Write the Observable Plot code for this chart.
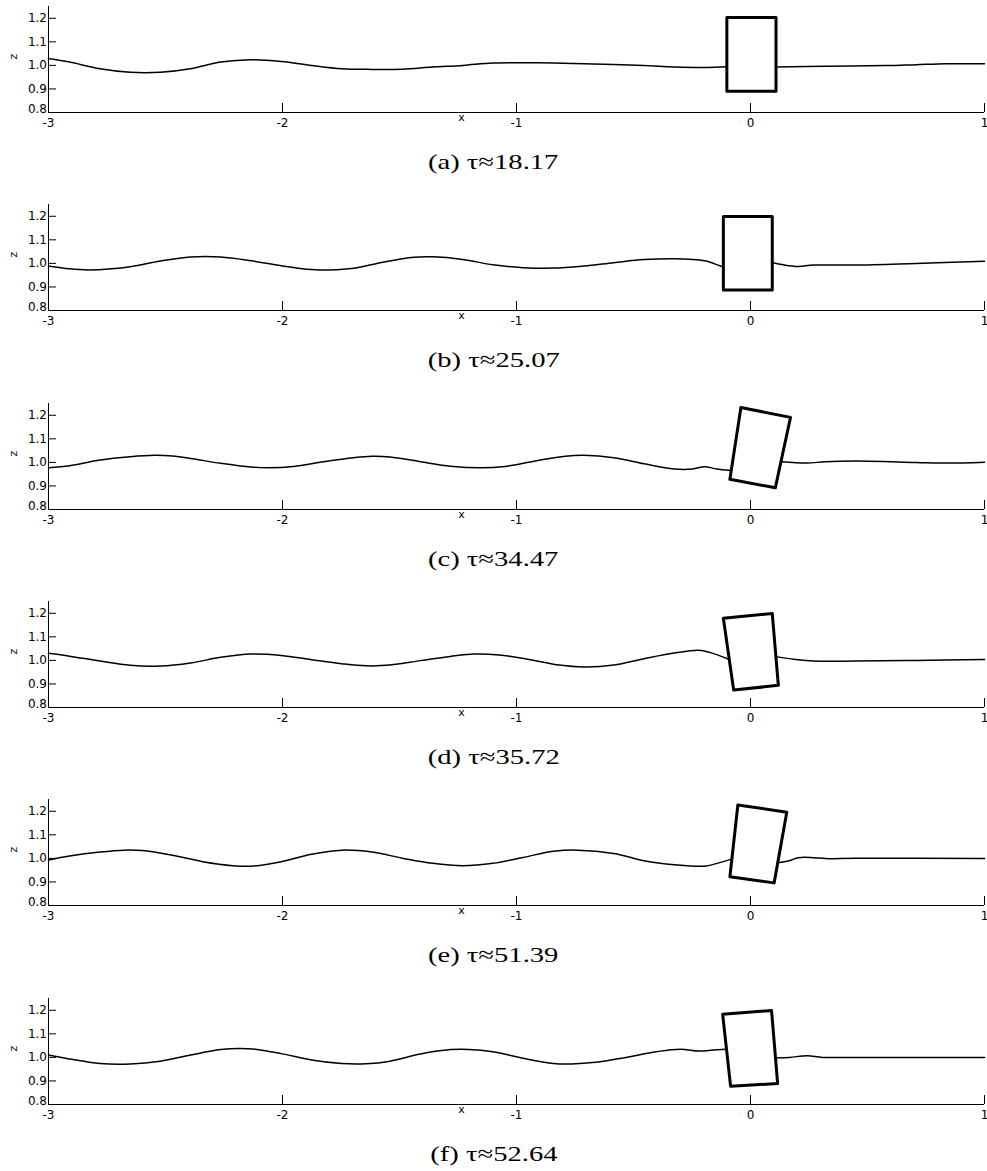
<!DOCTYPE html>
<html>
<head>
<meta charset="utf-8">
<script src="https://cdn.jsdelivr.net/npm/d3@7"></script>
<script src="https://cdn.jsdelivr.net/npm/@observablehq/plot@0.6"></script>
<style>
  html, body { margin: 0; padding: 0; background: #fff; }
  #root { position: relative; width: 987px; height: 1171px; overflow: hidden; }
  .block { position: absolute; left: 0; width: 987px; height: 198px; }
  .block svg { position: absolute; left: 0; top: 0; }
  .cap { position: absolute; left: 0; width: 987px; top: 151px; text-align: center;
         font-family: "Liberation Serif", "Times New Roman", serif; font-size: 22px; line-height: 22px; color: #000; }
  .cap span { display: inline-block; transform: scaleX(1.3); transform-origin: center; }
</style>
</head>
<body>
<div id="root"></div>
<script>
// ---- axis ticks ----
const xTicks = [-3, -2, -1, 0, 1];
const zTicks = [0.8, 0.9, 1.0, 1.1, 1.2];
const captions = ["(a) τ≈18.17", "(b) τ≈25.07", "(c) τ≈34.47", "(d) τ≈35.72", "(e) τ≈51.39", "(f) τ≈52.64"];

// ---- (a) ----
const aLeftX = [-3, -2.91, -2.78, -2.651, -2.522, -2.393, -2.264, -2.134, -2.005, -1.876, -1.747, -1.618, -1.488, -1.359, -1.23, -1.101, -0.972, -0.842, -0.713, -0.455, -0.326, -0.196, -0.101];
const aLeftZ = [1.029, 1.014, 0.986, 0.971, 0.971, 0.986, 1.014, 1.024, 1.017, 1.0, 0.986, 0.983, 0.984, 0.993, 1.0, 1.01, 1.011, 1.01, 1.007, 0.999, 0.993, 0.991, 0.994];
const aRightX = [0.109, 0.32, 0.579, 0.708, 0.837, 1.0];
const aRightZ = [0.993, 0.996, 0.999, 1.003, 1.007, 1.007];
const aBoxX = [-0.101, 0.109, 0.109, -0.101];
const aBoxZ = [1.203, 1.203, 0.89, 0.89];

// ---- (b) ----
const bLeftX = [-3, -2.91, -2.832, -2.729, -2.651, -2.522, -2.393, -2.264, -2.134, -2.005, -1.876, -1.798, -1.695, -1.566, -1.437, -1.359, -1.23, -1.101, -0.972, -0.842, -0.713, -0.584, -0.455, -0.326, -0.196, -0.132, -0.116];
const bLeftZ = [0.989, 0.977, 0.972, 0.977, 0.986, 1.01, 1.027, 1.027, 1.011, 0.99, 0.974, 0.972, 0.979, 1.006, 1.026, 1.028, 1.017, 0.994, 0.982, 0.98, 0.989, 1.003, 1.016, 1.02, 1.011, 0.99, 0.985];
const bRightX = [0.095, 0.14, 0.204, 0.269, 0.45, 0.708, 1.0];
const bRightZ = [1.003, 0.994, 0.987, 0.993, 0.993, 1.0, 1.009];
const bBoxX = [-0.116, 0.093, 0.093, -0.116];
const bBoxZ = [1.199, 1.199, 0.887, 0.887];

// ---- (c) ----
const cLeftX = [-3, -2.91, -2.78, -2.651, -2.548, -2.47, -2.393, -2.264, -2.134, -2.057, -1.953, -1.824, -1.695, -1.618, -1.54, -1.411, -1.282, -1.152, -1.049, -0.92, -0.791, -0.713, -0.584, -0.455, -0.326, -0.248, -0.196, -0.145, -0.086];
const cLeftZ = [0.977, 0.986, 1.01, 1.024, 1.03, 1.027, 1.017, 0.996, 0.98, 0.977, 0.983, 1.003, 1.02, 1.026, 1.023, 1.003, 0.984, 0.977, 0.983, 1.006, 1.026, 1.03, 1.02, 0.994, 0.972, 0.972, 0.982, 0.972, 0.966];
const cRightX = [0.13, 0.243, 0.32, 0.45, 0.708, 0.837, 1.0];
const cRightZ = [1.003, 0.997, 1.003, 1.006, 1.0, 0.997, 1.001];
const cBoxX = [-0.041, 0.171, 0.106, -0.088];
const cBoxZ = [1.233, 1.191, 0.892, 0.928];

// ---- (d) ----
const dLeftX = [-3, -2.91, -2.78, -2.651, -2.522, -2.393, -2.264, -2.134, -2.005, -1.876, -1.747, -1.643, -1.54, -1.411, -1.282, -1.178, -1.075, -0.946, -0.817, -0.713, -0.584, -0.455, -0.326, -0.222, -0.171, -0.09];
const dLeftZ = [1.03, 1.018, 0.997, 0.979, 0.976, 0.989, 1.013, 1.027, 1.021, 1.003, 0.986, 0.977, 0.98, 0.999, 1.017, 1.027, 1.023, 1.004, 0.98, 0.972, 0.98, 1.007, 1.031, 1.043, 1.033, 1.004];
const dRightX = [0.109, 0.191, 0.269, 0.45, 0.708, 1.0];
const dRightZ = [1.016, 1.004, 0.997, 0.997, 1.0, 1.004];
const dBoxX = [-0.116, 0.093, 0.119, -0.072];
const dBoxZ = [1.179, 1.199, 0.894, 0.874];

// ---- (e) ----
const eLeftX = [-3, -2.91, -2.78, -2.677, -2.599, -2.47, -2.341, -2.212, -2.134, -2.005, -1.876, -1.747, -1.618, -1.488, -1.359, -1.23, -1.101, -0.972, -0.842, -0.739, -0.584, -0.455, -0.326, -0.196, -0.132, -0.082];
const eLeftZ = [0.993, 1.01, 1.027, 1.035, 1.033, 1.013, 0.986, 0.969, 0.967, 0.986, 1.018, 1.035, 1.027, 1.001, 0.979, 0.969, 0.979, 1.004, 1.03, 1.035, 1.021, 0.99, 0.973, 0.967, 0.982, 0.997];
const eRightX = [0.116, 0.165, 0.204, 0.269, 0.32, 0.45, 1.0];
const eRightZ = [0.982, 0.99, 1.003, 1.003, 0.999, 1.001, 0.999];
const eBoxX = [-0.054, 0.155, 0.101, -0.088];
const eBoxZ = [1.227, 1.196, 0.896, 0.922];

// ---- (f) ----
const fLeftX = [-3, -2.91, -2.78, -2.651, -2.522, -2.393, -2.264, -2.186, -2.109, -2.005, -1.876, -1.747, -1.643, -1.54, -1.411, -1.282, -1.204, -1.101, -0.972, -0.842, -0.765, -0.662, -0.532, -0.403, -0.3, -0.222, -0.171, -0.103];
const fLeftZ = [1.01, 0.993, 0.974, 0.972, 0.984, 1.01, 1.033, 1.038, 1.034, 1.016, 0.989, 0.974, 0.973, 0.984, 1.014, 1.033, 1.034, 1.024, 0.996, 0.974, 0.972, 0.979, 1.0, 1.024, 1.035, 1.027, 1.03, 1.035];
const fRightX = [0.107, 0.165, 0.243, 0.307, 0.45, 1.0];
const fRightZ = [0.999, 1.0, 1.007, 1.0, 1.0, 1.0];
const fBoxX = [-0.119, 0.090, 0.116, -0.085];
const fBoxZ = [1.183, 1.199, 0.889, 0.877];

const panels = [
  [aLeftX, aLeftZ, aRightX, aRightZ, aBoxX, aBoxZ],
  [bLeftX, bLeftZ, bRightX, bRightZ, bBoxX, bBoxZ],
  [cLeftX, cLeftZ, cRightX, cRightZ, cBoxX, cBoxZ],
  [dLeftX, dLeftZ, dRightX, dRightZ, dBoxX, dBoxZ],
  [eLeftX, eLeftZ, eRightX, eRightZ, eBoxX, eBoxZ],
  [fLeftX, fLeftZ, fRightX, fRightZ, fBoxX, fBoxZ]
];

const W = 987, H = 140, mT = 6, mB = 28, mL = 48, mR = 3;
const plotW = W - mL - mR, plotH = H - mT - mB;
const root = document.getElementById("root");
const fmtZ = d3.format(".1f");

panels.forEach(([lx, lz, rx, rz, bx, bz], i) => {
  const wave = [
    ...lx.map((x, j) => ({x, z: lz[j], seg: "L"})),
    ...rx.map((x, j) => ({x, z: rz[j], seg: "R"}))
  ];
  const box = [...bx, bx[0]].map((x, j) => ({x, z: [...bz, bz[0]][j]}));

  const svg = Plot.plot({
    width: W, height: H,
    marginTop: mT, marginBottom: mB, marginLeft: mL, marginRight: mR,
    x: {domain: [xTicks[0], xTicks[xTicks.length - 1]], axis: null},
    y: {domain: [0.8, 1.25], axis: null},
    style: {fontFamily: "DejaVu Sans, sans-serif", fontSize: "12px", color: "#000", background: "transparent", overflow: "visible"},
    marks: [
      Plot.ruleX([xTicks[0]], {stroke: "#000", strokeWidth: 1}),
      Plot.ruleY([zTicks[0]], {stroke: "#000", strokeWidth: 1}),
      Plot.tickY(zTicks.slice(1), {y: d => d, stroke: "#000", insetRight: plotW - 8}),
      Plot.tickX(xTicks.slice(1), {x: d => d, stroke: "#000", insetTop: plotH - 9}),
      Plot.axisY({ticks: zTicks.slice(1), tickSize: 0, tickPadding: 1.5, tickFormat: fmtZ, label: null, fontSize: 12}),
      Plot.axisY({ticks: zTicks.slice(0, 1), tickSize: 0, tickPadding: 1.5, tickFormat: fmtZ, label: null, fontSize: 12, dy: -3}),
      Plot.axisX({ticks: xTicks, tickSize: 0, tickPadding: 6, tickFormat: d => String(d), label: null, fontSize: 12}),
      Plot.text(["z"], {text: d => d, frameAnchor: "left", dx: -35, rotate: -90, fontSize: 11}),
      Plot.text(["x"], {text: d => d, frameAnchor: "bottom", dx: -55, dy: 8, fontSize: 11}),
      Plot.line(wave, {x: "x", y: "z", z: "seg", stroke: "#000", strokeWidth: 1.5, curve: "catmull-rom"}),
      Plot.line(box, {x: "x", y: "z", stroke: "#000", strokeWidth: 3, strokeLinejoin: "round"})
    ]
  });

  const block = document.createElement("div");
  block.className = "block";
  block.style.top = (i * 198.3) + "px";
  block.appendChild(svg);
  const cap = document.createElement("div");
  cap.className = "cap";
  const span = document.createElement("span");
  span.textContent = captions[i];
  cap.appendChild(span);
  block.appendChild(cap);
  root.appendChild(block);
});
</script>
</body>
</html>
